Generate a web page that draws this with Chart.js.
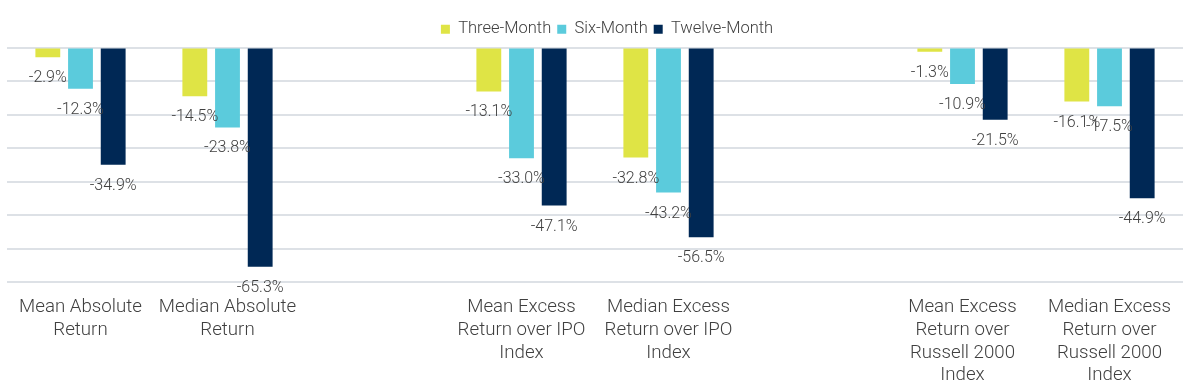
<!DOCTYPE html>
<html>
<head>
<meta charset="utf-8">
<script src="https://cdn.jsdelivr.net/npm/chart.js@4/dist/chart.umd.min.js"></script>
<style>
   html, body { margin: 0; padding: 0; background: #fff; }
   #wrap { width: 1202px; height: 387px; }
</style>
</head>
<body>
<div id="wrap"><canvas id="myChart" width="1202" height="387"></canvas></div>
<script>
const categories = [
   ['Mean Absolute', 'Return'],
   ['Median Absolute', 'Return'],
   '',
   ['Mean Excess', 'Return over IPO', 'Index'],
   ['Median Excess', 'Return over IPO', 'Index'],
   '',
   ['Mean Excess', 'Return over', 'Russell 2000', 'Index'],
   ['Median Excess', 'Return over', 'Russell 2000', 'Index'],
];
const threeMonth = [-2.9, -14.5, null, -13.1, -32.8, null, -1.3, -16.1];
const sixMonth = [-12.3, -23.8, null, -33.0, -43.2, null, -10.9, -17.5];
const twelveMonth = [-34.9, -65.3, null, -47.1, -56.5, null, -21.5, -44.9];

const COLORS = {
   three: '#dfe445',
   six: '#5bcbdc',
   twelve: '#002855',
   text: '#404040',
   grid: '#dde1e6',
}

// value labels under each bar end
const barLabels = {
   id: 'barLabels',
   afterLayout(chart) {
      // legend sits a bit right of centre in the original
      chart.legend.left += 12;
      chart.legend.right += 12;
   },
   afterDatasetsDraw(chart) {
      const ctx = chart.ctx;
      ctx.save();
      ctx.font = '300 16px Roboto';
      ctx.fillStyle = COLORS.text;
      ctx.textAlign = 'center';
      ctx.textBaseline = 'middle';
      chart.data.datasets.forEach((ds, i) => {
         chart.getDatasetMeta(i).data.forEach((bar, j) => {
            const v = ds.data[j];
            if (v == null) return;
            ctx.fillText(v.toFixed(1) + '%', bar.x, bar.y + 21);
         })
      })
      ctx.restore();
   }
}

const ds = (label, data, color) => ({
   label: label,
   data: data,
   backgroundColor: color,
   borderWidth: 0,
   categoryPercentage: 0.667,
   barPercentage: 0.76,
});

const config = {
   type: 'bar',
   data: {
      labels: categories,
      datasets: [
         ds('Three-Month', threeMonth, COLORS.three),
         ds('Six-Month', sixMonth, COLORS.six),
         ds('Twelve-Month', twelveMonth, COLORS.twelve),
      ],
   },
   options: {
      responsive: false,
      animation: false,
      layout: { padding: { left: 7, right: 19, top: 15, bottom: -6 } },
      plugins: {
         legend: {
            display: true,
            position: 'top',
            labels: {
               boxWidth: 9,
               boxHeight: 9,
               padding: 6,
               color: COLORS.text,
               font: { family: 'Roboto', size: 16.5, weight: '300' },
            },
         },
         tooltip: { enabled: false },
      },
      scales: {
         x: {
            grid: { display: false },
            border: { display: false },
            ticks: {
               color: COLORS.text,
               font: { family: 'Roboto', size: 18.7, weight: '300', lineHeight: 1.21 },
               maxRotation: 0,
               autoSkip: false,
               padding: 6,
            },
         },
         y: {
            min: -70,
            max: 0,
            ticks: { display: false, stepSize: 10 },
            grid: { color: COLORS.grid, lineWidth: 2, drawTicks: false },
            border: { display: false },
         }
      }
   },
   plugins: [barLabels],
};

const ctx = document.getElementById('myChart').getContext('2d');
const myChart = new Chart(ctx, config);
</script>
</body>
</html>
